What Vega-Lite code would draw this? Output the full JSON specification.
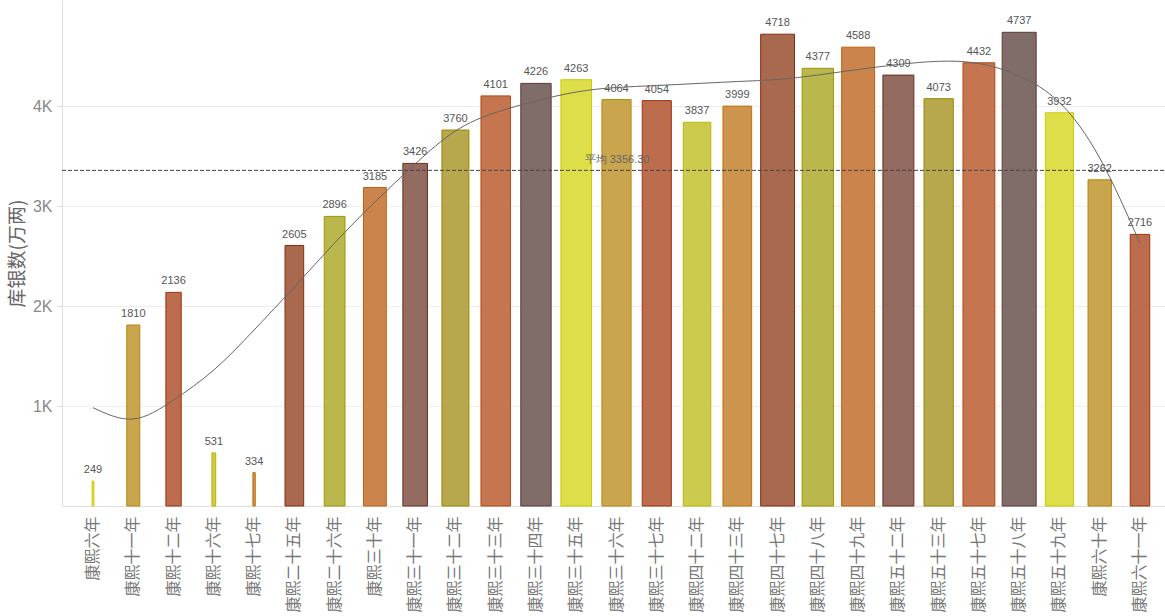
{
  "$schema": "https://vega.github.io/schema/vega-lite/v6.json",
  "width": 1103,
  "height": 506,
  "autosize": "none",
  "padding": {"left": 62, "top": 0, "right": 0, "bottom": 110},
  "background": "white",
  "config": {
    "view": {"stroke": null},
    "axis": {"labelFont": "Noto Sans CJK SC", "titleFont": "Noto Sans CJK SC"}
  },
  "data": {
    "values": [
      {"年份": "康熙六年", "库银": 249, "趋势": 983},
      {"年份": "康熙十一年", "库银": 1810, "趋势": 870},
      {"年份": "康熙十二年", "库银": 2136, "趋势": 1060},
      {"年份": "康熙十六年", "库银": 531, "趋势": 1360},
      {"年份": "康熙十七年", "库银": 334, "趋势": 1760},
      {"年份": "康熙二十五年", "库银": 2605, "趋势": 2190},
      {"年份": "康熙二十六年", "库银": 2896, "趋势": 2630},
      {"年份": "康熙三十年", "库银": 3185, "趋势": 3040},
      {"年份": "康熙三十一年", "库银": 3426, "趋势": 3420},
      {"年份": "康熙三十二年", "库银": 3760, "趋势": 3750},
      {"年份": "康熙三十三年", "库银": 4101, "趋势": 3935},
      {"年份": "康熙三十四年", "库银": 4226, "趋势": 4050},
      {"年份": "康熙三十五年", "库银": 4263, "趋势": 4140},
      {"年份": "康熙三十六年", "库银": 4064, "趋势": 4185},
      {"年份": "康熙三十七年", "库银": 4054, "趋势": 4205},
      {"年份": "康熙四十二年", "库银": 3837, "趋势": 4225},
      {"年份": "康熙四十三年", "库银": 3999, "趋势": 4245},
      {"年份": "康熙四十七年", "库银": 4718, "趋势": 4265},
      {"年份": "康熙四十八年", "库银": 4377, "趋势": 4310},
      {"年份": "康熙四十九年", "库银": 4588, "趋势": 4365},
      {"年份": "康熙五十二年", "库银": 4309, "趋势": 4415},
      {"年份": "康熙五十三年", "库银": 4073, "趋势": 4447},
      {"年份": "康熙五十七年", "库银": 4432, "趋势": 4425},
      {"年份": "康熙五十八年", "库银": 4737, "趋势": 4300},
      {"年份": "康熙五十九年", "库银": 3932, "趋势": 4035},
      {"年份": "康熙六十年", "库银": 3262, "趋势": 3480},
      {"年份": "康熙六十一年", "库银": 2716, "趋势": 2627}
    ]
  },
  "encoding": {
    "x": {
      "field": "年份",
      "type": "nominal",
      "sort": null,
      "title": null,
      "scale": {"range": [0, 1109], "paddingInner": 0, "paddingOuter": 0.27},
      "axis": {
        "labelAngle": -90,
        "labelFontSize": 16,
        "labelColor": "#777",
        "labelPadding": 10,
        "ticks": false,
        "domainColor": "#ddd",
        "grid": false
      }
    }
  },
  "layer": [
    {
      "mark": {"type": "bar", "strokeWidth": 1},
      "encoding": {
        "y": {
          "field": "库银",
          "type": "quantitative",
          "title": "库银数(万两)",
          "scale": {"domain": [0, 5060], "nice": false},
          "axis": {
            "values": [1000, 2000, 3000, 4000],
            "labelExpr": "datum.value / 1000 + 'K'",
            "labelFontSize": 16,
            "labelColor": "#888",
            "labelFont": "Liberation Sans",
            "labelPadding": 5,
            "tickSize": 5,
            "tickColor": "#ddd",
            "domainColor": "#ddd",
            "gridColor": "#eee",
            "titleFontSize": 19,
            "titleFontWeight": "normal",
            "titleColor": "#666",
            "titlePadding": 5
          }
        },
        "size": {
          "field": "库银",
          "type": "quantitative",
          "legend": null,
          "scale": {"domain": [0, 4737], "range": [0, 34], "zero": true}
        },
        "fill": {
          "field": "年份",
          "type": "nominal",
          "sort": null,
          "legend": null,
          "scale": {
            "range": [
              "#dede4a", "#c9a54e", "#bc6d4e", "#cccb4e", "#cc944c", "#a9694f",
              "#bab74d", "#cb854c", "#946b60", "#b7a84d", "#c5754f", "#806d69",
              "#dede4a", "#c9a54e", "#bc6d4e", "#cccb4e", "#cc944c", "#a9694f",
              "#bab74d", "#cb854c", "#946b60", "#b7a84d", "#c5754f", "#806d69",
              "#dede4a", "#c9a54e", "#bc6d4e"
            ]
          }
        },
        "stroke": {
          "field": "年份",
          "type": "nominal",
          "sort": null,
          "legend": null,
          "scale": {
            "range": [
              "#cccc00", "#b8860b", "#a0320a", "#b8b800", "#c07010", "#8b2c12",
              "#a09800", "#c06010", "#6b2e1e", "#9a8800", "#b04810", "#5c3a30",
              "#cccc00", "#b8860b", "#a0320a", "#b8b800", "#c07010", "#8b2c12",
              "#a09800", "#c06010", "#6b2e1e", "#9a8800", "#b04810", "#5c3a30",
              "#cccc00", "#b8860b", "#a0320a"
            ]
          }
        }
      }
    },
    {
      "mark": {
        "type": "text",
        "baseline": "bottom",
        "dy": -6,
        "fontSize": 11,
        "font": "Liberation Sans",
        "color": "#555"
      },
      "encoding": {
        "y": {"field": "库银", "type": "quantitative"},
        "text": {"field": "库银", "type": "quantitative"}
      }
    },
    {
      "mark": {
        "type": "line",
        "interpolate": "natural",
        "color": "#666",
        "strokeWidth": 1
      },
      "encoding": {
        "y": {"field": "趋势", "type": "quantitative"}
      }
    },
    {
      "transform": [{"aggregate": [{"op": "mean", "field": "库银", "as": "平均"}]}],
      "mark": {"type": "rule", "color": "#444", "strokeWidth": 1, "strokeDash": [4, 2]},
      "encoding": {
        "x": {"value": 0},
        "x2": {"value": 1103},
        "y": {"field": "平均", "type": "quantitative"}
      }
    },
    {
      "transform": [
        {"aggregate": [{"op": "mean", "field": "库银", "as": "平均"}]},
        {"calculate": "'平均 ' + format(datum['平均'], '.2f')", "as": "标签"}
      ],
      "mark": {
        "type": "text",
        "baseline": "bottom",
        "dy": -5,
        "dx": 4,
        "fontSize": 11,
        "font": "Liberation Sans",
        "color": "#666"
      },
      "encoding": {
        "x": {"value": 551},
        "y": {"field": "平均", "type": "quantitative"},
        "text": {"field": "标签", "type": "nominal"}
      }
    }
  ]
}
